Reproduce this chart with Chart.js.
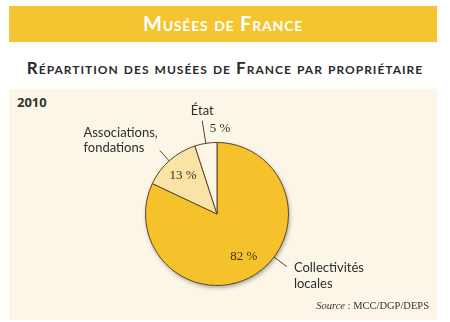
<!DOCTYPE html>
<html lang="fr">
<head>
<meta charset="utf-8">
<script src="https://cdn.jsdelivr.net/npm/chart.js@4"></script>
<style>
    body { margin: 0; width: 450px; height: 322px; background: #fff; position: relative; overflow: hidden; }
    .banner {
        position: absolute; left: 9px; top: 6px; width: 428px; height: 36px;
        background: #f4c531; color: #fff; text-align: center;
        font: bold 20px "Lato", sans-serif; font-variant: small-caps; line-height: 35px;
        letter-spacing: 0.8px;
    }
    .subtitle {
        position: absolute; left: 0; top: 57px; width: 450px; text-align: center;
        font: bold 17px "Lato", sans-serif; font-variant: small-caps; color: #2b2b2b;
        letter-spacing: 1px;
    }
    .panel { position: absolute; left: 9px; top: 89px; width: 428px; height: 231px; background: #fcf6e9; }
    #chart { position: absolute; left: 9px; top: 89px; }
    .year { position: absolute; left: 17px; top: 93px; font: bold 13px "Open Sans", sans-serif; color: #333; }
    .source { position: absolute; right: 21px; top: 300px; font: 10.5px "Liberation Serif", serif; color: #333; }
</style>
</head>
<body>
<div class="banner">Musées de France</div>
<div class="subtitle">Répartition des musées de France par propriétaire</div>
<div class="panel"></div>
<div class="year">2010</div>
<canvas id="chart" width="428" height="231"></canvas>
<div class="source"><i>Source</i> : MCC/DGP/DEPS</div>
<script>
const categories = ["Collectivités locales", "Associations, fondations", "État"];
const labelLines = [["Collectivités", "locales"], ["Associations,", "fondations"], ["État"]];
const shares = [82, 13, 5];
const sliceColours = ["#f5c22c", "#f9e3a6", "#fdf6e6"];

// label placement per slice (angles in degrees clockwise from top)
const leaderSetup = [
    { angle: 127, length: 16, place: "right" },
    { angle: 318, length: 14, place: "left" },
    { angle: 351, length: 23, place: "top" },
];
const percentSetup = [
    { angle: null, radius: 0.70 },
    { angle: null, radius: 0.72 },
    { angle: 2, radius: 1.2 },
];

function toXY(cx, cy, deg, r) {
    const a = deg * Math.PI / 180;
    return { x: cx + Math.sin(a) * r, y: cy - Math.cos(a) * r };
}

const pieShadow = {
    id: "pieShadow",
    beforeDatasetsDraw(chart) {
        const arc = chart.getDatasetMeta(0).data[0];
        if (!arc) return;
        const ctx = chart.ctx;
        ctx.save();
        ctx.shadowColor = "rgba(0,0,0,0.35)";
        ctx.shadowBlur = 4;
        ctx.shadowOffsetX = 1;
        ctx.shadowOffsetY = 2;
        ctx.fillStyle = "#fcf6e9";
        ctx.beginPath();
        ctx.arc(arc.x, arc.y, arc.outerRadius, 0, Math.PI * 2);
        ctx.fill();
        ctx.restore();
    }
};

const pieLabels = {
    id: "pieLabels",
    afterDatasetsDraw(chart) {
        const ctx = chart.ctx;
        const arcs = chart.getDatasetMeta(0).data;
        ctx.save();
        arcs.forEach((arc, i) => {
            const cx = arc.x, cy = arc.y, R = arc.outerRadius;
            const mid = ((arc.startAngle + arc.endAngle) / 2) * 180 / Math.PI + 90;

            // percentage
            const p = percentSetup[i];
            const pos = toXY(cx, cy, p.angle === null ? mid : p.angle, R * p.radius);
            ctx.font = "13px 'Liberation Serif', serif";
            ctx.fillStyle = "#3a2e1c";
            ctx.textAlign = "center";
            ctx.textBaseline = "middle";
            ctx.fillText(shares[i] + " %", pos.x, pos.y);

            // leader line
            const l = leaderSetup[i];
            const a = toXY(cx, cy, l.angle, R);
            const b = toXY(cx, cy, l.angle, R + l.length);
            ctx.strokeStyle = "#3a3226";
            ctx.lineWidth = 0.9;
            ctx.beginPath();
            ctx.moveTo(a.x, a.y);
            ctx.lineTo(b.x, b.y);
            ctx.stroke();

            // category text
            ctx.font = "13px 'Lato', sans-serif";
            ctx.fillStyle = "#2e2e2e";
            const lines = labelLines[i];
            if (l.place === "right") {
                ctx.textAlign = "left";
                lines.forEach((t, k) => ctx.fillText(t, b.x + 7, b.y + 1 + k * 16));
            } else if (l.place === "left") {
                const w = Math.max(...lines.map(t => ctx.measureText(t).width));
                ctx.textAlign = "left";
                lines.forEach((t, k) => ctx.fillText(t, b.x - 2 - w, b.y - 18 + k * 15));
            } else {
                ctx.textAlign = "center";
                ctx.fillText(lines[0], b.x, b.y - 10);
            }
        });
        ctx.restore();
    }
};

new Chart(document.getElementById("chart"), {
    type: "pie",
    data: {
        labels: categories,
        datasets: [{
            data: shares,
            backgroundColor: sliceColours,
            borderColor: "#5a4626",
            borderWidth: 1,
            hoverOffset: 0
        }]
    },
    options: {
        responsive: false,
        animation: false,
        layout: { padding: { left: 136, right: 148, top: 53, bottom: 34 } },
        plugins: {
            legend: { display: false },
            tooltip: { enabled: false }
        }
    },
    plugins: [pieShadow, pieLabels]
});
</script>
</body>
</html>
